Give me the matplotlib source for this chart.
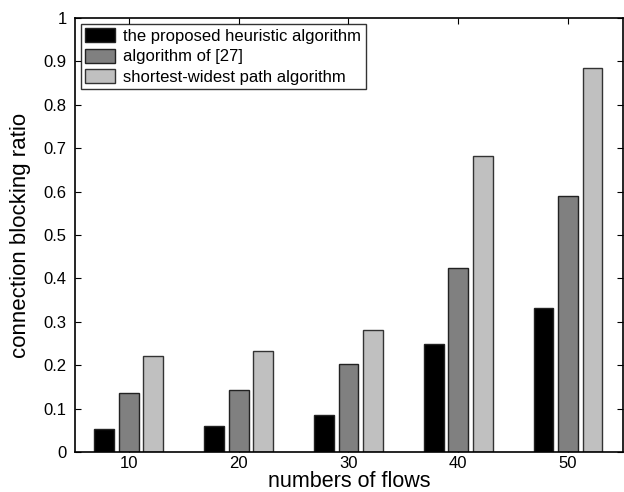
import matplotlib.pyplot as plt
import numpy as np

plt.rcParams['font.family'] = ['Liberation Sans', 'DejaVu Sans']

flows = [10, 20, 30, 40, 50]
heuristic = [0.053, 0.060, 0.085, 0.248, 0.331]
algo27 = [0.137, 0.144, 0.203, 0.423, 0.590]
shortest_widest = [0.222, 0.233, 0.282, 0.682, 0.884]
labels = ['the proposed heuristic algorithm', 'algorithm of [27]',
          'shortest-widest path algorithm']
yticks = [0, 0.1, 0.2, 0.3, 0.4, 0.5, 0.6, 0.7, 0.8, 0.9, 1]
yticklabels = ['0', '0.1', '0.2', '0.3', '0.4', '0.5', '0.6', '0.7', '0.8', '0.9', '1']

fig = plt.figure(figsize=(6.24, 4.92), dpi=100)
ax = fig.add_axes([75/624, 1-452/492, 548/624, 434/492])
ax.set_axisbelow(True)

x = np.array(flows)
w = 1.8
off = 2.23
ax.bar(x-off, heuristic, w, color='black', edgecolor='#222222', linewidth=1, label=labels[0])
ax.bar(x, algo27, w, color='#808080', edgecolor='#222222', linewidth=1, label=labels[1])
ax.bar(x+off, shortest_widest, w, color='#c0c0c0', edgecolor='#333333', linewidth=1, label=labels[2])

ax.set_xlim(5.1, 55)
ax.set_ylim(0, 1)
ax.set_xticks(flows)
ax.set_yticks(yticks)
ax.set_yticklabels(yticklabels)
ax.tick_params(axis='both', direction='in', right=True, top=True, length=4, labelsize=12)
ax.tick_params(axis='x', pad=3)
ax.tick_params(axis='y', pad=6)
for s in ax.spines.values():
    s.set_linewidth(1.2)

ax.set_xlabel('numbers of flows', fontsize=15.5, labelpad=0)
ax.set_ylabel('connection blocking ratio', fontsize=16, labelpad=9)

leg = ax.legend(loc='upper left', fontsize=12, frameon=True, fancybox=False,
                edgecolor='black', borderaxespad=0.35, handlelength=1.8,
                handleheight=0.9, labelspacing=0.3, borderpad=0.25,
                handletextpad=0.5)
leg.get_frame().set_linewidth(1.0)

fig.savefig('out.png', dpi=100)
